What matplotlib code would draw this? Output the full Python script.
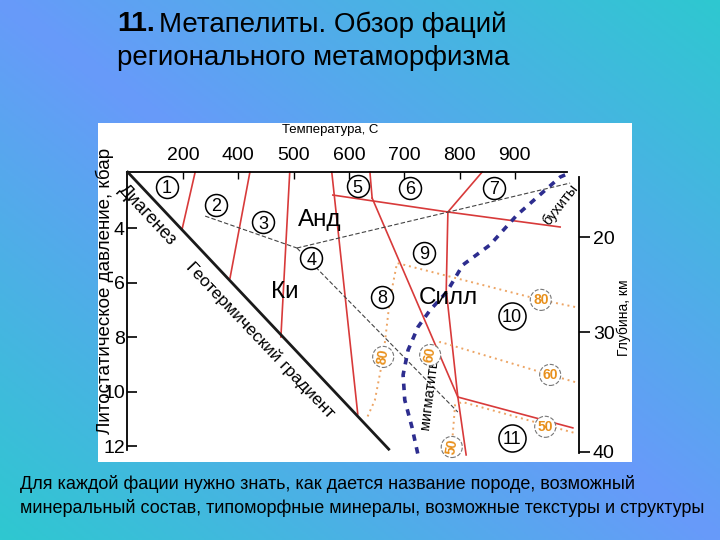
import numpy as np
import matplotlib
matplotlib.use('Agg')
import matplotlib.pyplot as plt
from matplotlib.patches import Rectangle

# ---------------- data (T in °C, P in kbar) ----------------
temp_ticks = [300, 400, 500, 600, 700, 800, 900]
temp_labels = ['200', '400', '500', '600', '700', '800', '900']
press_ticks = [4, 6, 8, 10, 12]
press_labels = ['4', '6', '8', '10', '12']
depth_tick_pos = [4.33, 7.81, 12.2]
depth_labels = ['20', '30', '40']

geotherm_T = [200, 672]
geotherm_P = [1.95, 12.1]

red_a_T = [322, 298];            red_a_P = [1.945, 4.07]
red_b_T = [421, 385];            red_b_P = [1.945, 5.83]
red_c_T = [493, 477];            red_c_P = [1.945, 7.99]
red_d_T = [569, 616];            red_d_P = [1.945, 10.81]
red_e_T = [638, 642];            red_e_P = [1.945, 2.90]
red_f_T = [642, 797];            red_f_P = [2.90, 10.19]
red_g_T = [571, 779, 982];       red_g_P = [2.79, 3.41, 3.96]
red_h_T = [779, 841];            red_h_P = [3.41, 1.945]
red_i_T = [779, 776, 797];       red_i_P = [3.41, 6.27, 10.19]
red_j_T = [797, 1005];           red_j_P = [10.19, 11.32]
red_k_T = [797, 812];            red_k_P = [10.19, 12.31]

ky_and_T = [340, 506];           ky_and_P = [3.56, 4.73]
and_sill_T = [506, 1000];        and_sill_P = [4.73, 2.35]
ky_sill_T = [506, 797];          ky_sill_P = [4.73, 10.74]

melt80_T = [1009, 947, 687, 674, 662, 647, 631]
melt80_P = [6.89, 6.63, 5.28, 6.63, 8.72, 10.30, 11.03]
melt60_T = [1009, 964, 765, 747]
melt60_P = [9.64, 9.38, 8.17, 8.65]
melt50_T = [786, 792, 805, 955, 1009]
melt50_P = [12.02, 10.48, 10.37, 11.21, 11.51]

blue_T = [991, 982, 904, 855, 806, 777, 747, 725, 707, 698, 701, 714, 725]
blue_P = [2.05, 2.13, 3.52, 4.62, 5.35, 6.34, 7.00, 7.62, 8.47, 9.38, 10.30, 11.29, 12.31]

facies_labels = ['1', '2', '3', '4', '5', '6', '7', '8', '9', '10', '11']
facies_T = [271, 360, 445, 532, 616, 711, 862, 660, 736, 895, 895]
facies_P = [2.49, 3.15, 3.78, 5.10, 2.46, 2.53, 2.53, 6.52, 4.91, 7.22, 11.69]

melt_labels = ['80', '80', '60', '60', '50', '50']
melt_T = [947, 662, 747, 964, 955, 786]
melt_P = [6.63, 8.72, 8.65, 9.38, 11.28, 12.02]
melt_rot = [0, 80, 80, 0, 0, 80]

mineral_labels = ['Анд', 'Ки', 'Силл']
mineral_T = [548, 484, 779]
mineral_P = [3.70, 6.34, 6.56]

# ---------------- figure ----------------
W, H = 720, 540
fig = plt.figure(figsize=(7.2, 5.4), dpi=100)
DIAG = 'Liberation Sans'
NARROW = ['Liberation Sans Narrow', 'Liberation Sans', 'DejaVu Sans']

bg = fig.add_axes([0, 0, 1, 1], zorder=-10)
xx, yy = np.meshgrid(np.linspace(0, 1, 360), np.linspace(0, 1, 270))
d = np.clip(np.abs(xx - yy), 0, 1)[..., None]
c0 = np.array([104, 154, 250]) / 255
c1 = np.array([46, 200, 208]) / 255
bg.imshow(c0 * (1 - d) + c1 * d, extent=[0, 1, 0, 1], aspect='auto', origin='upper')
bg.add_patch(Rectangle((98 / W, 1 - 462 / H), 534 / W, 339 / H, transform=bg.transAxes,
                       fc='white', ec='none'))
bg.set_xlim(0, 1); bg.set_ylim(0, 1)
bg.set_axis_off()

ax = fig.add_axes([127 / W, 1 - 453 / H, (579 - 127) / W, (453 - 172) / H])
ax.set_xlim(198.7, 1016.1)
ax.set_ylim(12.24, 1.945)
ax.patch.set_visible(False)
for s in ['bottom', 'right']:
    ax.spines[s].set_visible(False)
ax.spines['top'].set_bounds(198.7, 994)
ax.spines['left'].set_bounds(1.945, 12.13)
for s in ['top', 'left']:
    ax.spines[s].set_linewidth(1.3)

ax.xaxis.tick_top()
ax.set_xticks(temp_ticks, temp_labels, fontfamily=DIAG)
ax.tick_params(axis='x', direction='in', length=5, width=1, pad=6, labelsize=14)
ax.set_yticks(press_ticks, press_labels, fontfamily=DIAG)
ax.tick_params(axis='y', direction='in', length=7, width=1.2, pad=1.5, labelsize=14)

ax2 = ax.twinx()
ax2.set_ylim(ax.get_ylim())
for s in ['top', 'bottom', 'left']:
    ax2.spines[s].set_visible(False)
ax2.spines['right'].set_bounds(2.13, 12.24)
ax2.spines['right'].set_linewidth(1.3)
ax2.set_yticks(depth_tick_pos, depth_labels, fontfamily=DIAG)
ax2.tick_params(axis='y', direction='out', length=8, width=1.2, pad=2, labelsize=14)

# lines
ax.plot(geotherm_T, geotherm_P, color='#1a1a1a', lw=2.0, clip_on=False, zorder=3)
red = '#d83a3a'
for T, P in [(red_a_T, red_a_P), (red_b_T, red_b_P), (red_c_T, red_c_P), (red_d_T, red_d_P),
             (red_e_T, red_e_P), (red_f_T, red_f_P), (red_g_T, red_g_P), (red_h_T, red_h_P),
             (red_i_T, red_i_P), (red_j_T, red_j_P), (red_k_T, red_k_P)]:
    ax.plot(T, P, color=red, lw=1.2, clip_on=False, zorder=2)
for T, P in [(ky_and_T, ky_and_P), (and_sill_T, and_sill_P), (ky_sill_T, ky_sill_P)]:
    ax.plot(T, P, color='#444444', lw=0.8, ls=(0, (4, 2)), zorder=2)
orange = '#eda565'
for T, P in [(melt80_T, melt80_P), (melt60_T, melt60_P), (melt50_T, melt50_P)]:
    ax.plot(T, P, color=orange, lw=1.4, ls=(0, (1, 2)), zorder=2)
ax.plot(blue_T, blue_P, color='#2d2d8f', lw=2.6, ls=(0, (1.8, 1.8)), clip_on=False, zorder=2)

# circled facies numbers
for lab, T, P in zip(facies_labels, facies_T, facies_P):
    ax.scatter([T], [P], s=250 if len(lab) == 1 else 380, facecolor='white',
               edgecolor='black', linewidth=1.1, zorder=4, clip_on=False)
    ax.text(T, P, lab, ha='center', va='center_baseline', fontsize=13, fontfamily=DIAG, zorder=5)

# circled melt numbers
for lab, T, P, r in zip(melt_labels, melt_T, melt_P, melt_rot):
    ax.scatter([T], [P], s=230, facecolor='white', edgecolor='#777777', linewidth=0.8,
               linestyles='--', zorder=4, clip_on=False)
    ax.text(T, P, lab, ha='center', va='center', fontsize=10, fontweight='bold',
            color='#e8901c', rotation=r, fontfamily=DIAG, zorder=5)

for lab, T, P in zip(mineral_labels, mineral_T, mineral_P):
    ax.text(T, P, lab, ha='center', va='center', fontsize=17.5, fontfamily=DIAG, zorder=5)

ax.text(235, 3.52, 'Диагенез', rotation=-47, ha='center', va='center', fontsize=13,
        fontfamily=DIAG, rotation_mode='anchor')
ax.text(439, 8.10, 'Геотермический градиент', rotation=-46.5, ha='center', va='center',
        fontsize=12.5, fontfamily=DIAG, rotation_mode='anchor')
ax.text(982, 3.15, 'бухиты', rotation=52, ha='center', va='center', fontsize=10.5,
        fontfamily=DIAG, rotation_mode='anchor')
ax.text(745, 10.04, 'мигматиты', rotation=83, ha='center', va='center', fontsize=10.5,
        fontfamily=DIAG, rotation_mode='anchor')

# axis titles
fig.text(330 / W, 1 - 130 / H, 'Температура, С', ha='center', va='center', fontsize=9.5,
         fontfamily=DIAG)
fig.text(105 / W, 1 - 291 / H, 'Литостатическое давление, кбар', rotation=90,
         ha='center', va='center', fontsize=13.5, fontfamily=DIAG)
fig.text(624 / W, 1 - 318 / H, 'Глубина, км', rotation=90, ha='center', va='center',
         fontsize=10, fontfamily=DIAG)

# title and footer
fig.text(117 / W, 1 - 24 / H, '11.', ha='left', va='center', fontsize=20.5,
         fontweight='bold', fontfamily=NARROW)
fig.text(159 / W, 1 - 25 / H, 'Метапелиты. Обзор фаций', ha='left', va='center',
         fontsize=20, fontfamily=NARROW)
fig.text(117 / W, 1 - 58 / H, 'регионального метаморфизма', ha='left', va='center',
         fontsize=20, fontfamily=NARROW)
fig.text(20 / W, 1 - 484 / H, 'Для каждой фации нужно знать, как дается название породе, возможный',
         ha='left', va='center', fontsize=13, fontfamily=NARROW)
fig.text(20 / W, 1 - 508 / H, 'минеральный состав, типоморфные минералы, возможные текстуры и структуры',
         ha='left', va='center', fontsize=13, fontfamily=NARROW)

fig.savefig('out.png', dpi=100)
